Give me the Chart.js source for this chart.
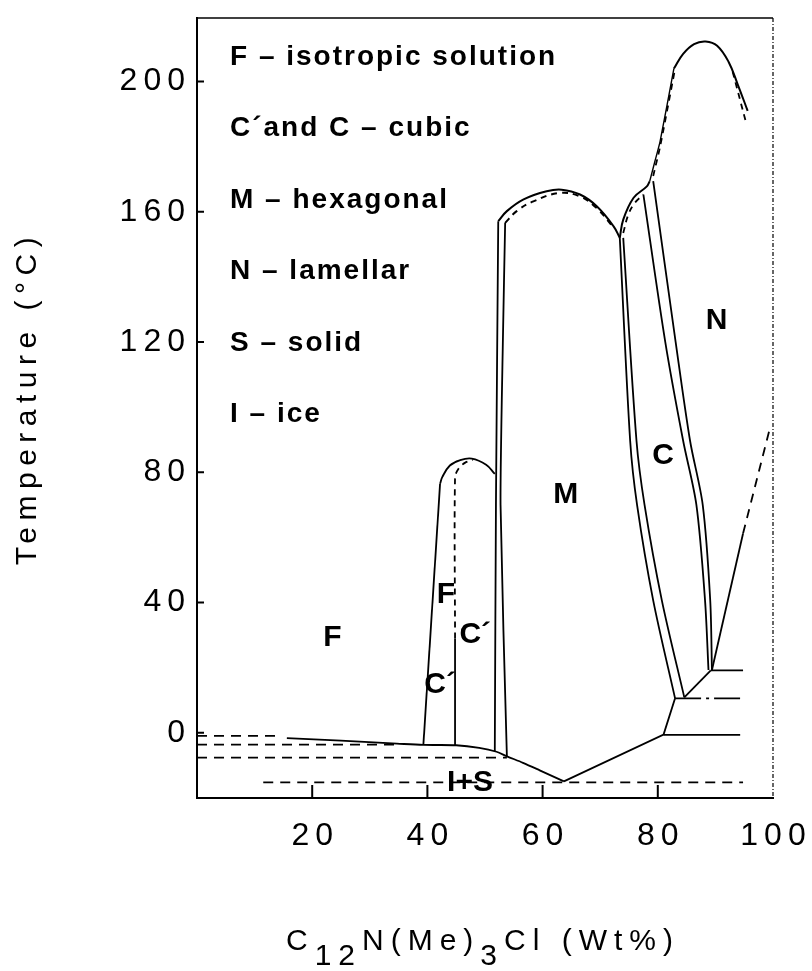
<!DOCTYPE html>
<html>
<head>
<meta charset="utf-8">
<script src="https://cdn.jsdelivr.net/npm/chart.js@4.4.1/dist/chart.umd.min.js"></script>
<style>
  html, body { margin: 0; padding: 0; background: #fff; }
</style>
</head>
<body>
<canvas id="phase" width="812" height="971"></canvas>
<script>
// Tick values on both axes
var xTicks = [20, 40, 60, 80, 100];
var yTicks = [0, 40, 80, 120, 160, 200];

// Key written in the upper left of the plot
var legendLines = ['F – isotropic solution', 'C´and C – cubic', 'M – hexagonal',
  'N – lamellar', 'S – solid', 'I – ice'];

// Phase names and the (wt%, °C) spot where each one is written
var regionNames = ['N', 'C', 'M', 'F', 'F', 'C´', 'C´', 'I+S'];
var regionX = [90.2, 80.9, 64.0, 23.5, 43.2, 48.3, 42.2, 47.4];
var regionY = [126.5, 85.1, 73.0, 29.1, 42.3, 30.0, 14.7, -15.4];

// Phase boundaries as [wt%, °C] pairs
// low temperature part
var iceDash1 = [[0, -0.9], [14.5, -0.9]];
var iceDash2 = [[0, -3.6], [34.7, -3.6]];
var iceDash3 = [[0, -7.6], [53.8, -7.6]];
var eutecticLine = [[11.5, -15.2], [94.8, -15.2]];
var iceCurve = [[15.6, -1.6], [25, -2.4], [34.7, -3.3], [39.3, -3.7], [45, -3.8],
  [49, -4.6], [52, -5.8], [53.8, -7.2], [56.6, -9.2], [59.5, -11.5], [63.7, -14.9]];
var solidusRight = [[63.7, -14.9], [81.0, -0.5], [83.0, 10.6]];
var solidusStep = [[84.6, 10.9], [89.2, 19.2]];
var flat0 = [[81.0, -0.6], [94.3, -0.6]];
var flat10 = [[83.0, 10.6], [94.5, 10.6]];
var flat19 = [[89.2, 19.2], [94.8, 19.2]];

// cubic C' dome
var cPrimeLeft = [[39.3, -3.7], [42.2, 76.5]];
var cPrimeDome = [[42.2, 76.5], [42.6, 78.6], [43.9, 82.1], [45.6, 83.7], [47.7, 84.2],
  [50.2, 82.3], [51.7, 79.5]];
var cPrimeMidSolid = [[44.8, -3.7], [44.8, 29]];
var cPrimeMidDash = [[44.8, 29], [44.8, 78.5], [45.4, 81.1], [46.5, 82.9], [47.9, 83.8]];
var cPrimeRightA = [[51.7, -5.7], [51.9, 70], [52.3, 157.1]];
var cPrimeRightB = [[53.8, -7.2], [52.7, 70], [53.1, 120], [53.5, 156.6]];

// hexagonal M dome
var mDome = [[52.3, 157.1], [53.8, 160.2], [56.7, 163.8], [60.7, 166.3], [63.3, 166.8],
  [66.5, 165.3], [69.4, 161.7], [72.3, 155.6], [73.4, 152.0]];
var mDomeDash = [[53.5, 156.6], [55.5, 160.2], [58.4, 163.2], [63.0, 165.8],
  [66.5, 164.7], [69.4, 161.1], [72.4, 155.0]];
var mcLine1 = [[73.4, 152.0], [75.2, 89.7], [76.4, 70], [79.2, 40.7], [83.0, 10.6]];
var mcLine2 = [[74.0, 152.0], [76.3, 89.7], [77.7, 70], [80.7, 40.7], [84.6, 10.9]];

// cubic C dome
var cDome = [[73.4, 152.0], [74.0, 157.6], [75.8, 164.3], [78.1, 167.8], [78.6, 169.4]];
var cDomeDash = [[74.0, 153.5], [74.9, 159.2], [76.0, 162.7], [77.5, 165.3]];
var cnLine1 = [[77.5, 165.3], [81.3, 120], [84.4, 89.7], [86.7, 70], [88.2, 40.7], [88.8, 19.3]];
var cnLine2 = [[79.2, 169.4], [83.1, 120], [85.6, 89.7], [87.8, 70], [89.1, 40.7], [89.4, 19.3]];

// lamellar N region
var nRise = [[78.6, 169.4], [79.5, 175.5], [80.4, 181.6], [82.8, 204]];
var nDome = [[82.8, 204], [84.4, 208.5], [86.3, 211.5], [88.3, 212.3], [90.3, 211],
  [92.3, 206], [93.9, 199], [95.6, 191]];
var nRiseDash = [[79.2, 171], [80.4, 180], [82.9, 203]];
var nFallDash = [[93.0, 203], [95.3, 187.5]];
var nSolidus = [[89.4, 19.3], [94.8, 61.2]];
var nSolidusDash = [[94.8, 61.2], [99.6, 94.5]];

var FONT = '"Liberation Sans", Arial, Helvetica, sans-serif';

function curve(points, dash, tension, width) {
    return {
        data: points.map(function(p) { return {x: p[0], y: p[1]}; }),
        showLine: true,
        borderColor: '#000',
        borderWidth: width || 1.8,
        borderDash: dash || [],
        tension: tension || 0,
        pointRadius: 0,
        fill: false
    };
}

var shortDash = [6, 5];
var longDash = [10, 7];

var datasets = [
    curve(iceDash1, longDash),
    curve(iceDash2, longDash),
    curve(iceDash3, longDash),
    curve(eutecticLine, longDash),
    curve(iceCurve, null, 0.3),
    curve(solidusRight),
    curve(solidusStep),
    curve(flat0),
    curve(flat10, [26, 5, 3, 5]),
    curve(flat19),
    curve(cPrimeLeft),
    curve(cPrimeDome, null, 0.4),
    curve(cPrimeMidSolid),
    curve(cPrimeMidDash, shortDash, 0.3),
    curve(cPrimeRightA, null, 0.2),
    curve(cPrimeRightB, null, 0.2),
    curve(mDome, null, 0.4, 2),
    curve(mDomeDash, shortDash, 0.4, 2),
    curve(mcLine1, null, 0.3),
    curve(mcLine2, null, 0.3),
    curve(cDome, null, 0.4, 2),
    curve(cDomeDash, shortDash, 0.4),
    curve(cnLine1, null, 0.3),
    curve(cnLine2, null, 0.3),
    curve(nRise, null, 0.2, 1.4),
    curve(nDome, null, 0.4, 2),
    curve(nRiseDash, shortDash, 0.2),
    curve(nFallDash, shortDash),
    curve(nSolidus),
    curve(nSolidusDash, [9, 7])
];

// Frame, inward ticks and all free text
var decorPlugin = {
    id: 'decor',
    beforeDraw: function(chart) {
        var ctx = chart.ctx;
        ctx.fillStyle = '#fff';
        ctx.fillRect(0, 0, chart.width, chart.height);
        // spaced out digits, like the typewriter figures
        ctx.letterSpacing = '6px';
    },
    beforeDatasetsDraw: function(chart) {
        var ctx = chart.ctx;
        var a = chart.chartArea;
        var xs = chart.scales.x;
        var ys = chart.scales.y;
        ctx.letterSpacing = '0px';
        ctx.save();
        ctx.strokeStyle = '#000';
        ctx.lineWidth = 1.6;
        ctx.beginPath();
        ctx.moveTo(a.left, a.top);
        ctx.lineTo(a.right, a.top);
        ctx.stroke();
        ctx.lineWidth = 1.2;
        ctx.setLineDash([4, 2, 1, 2]);
        ctx.beginPath();
        ctx.moveTo(a.right, a.top);
        ctx.lineTo(a.right, a.bottom);
        ctx.stroke();
        ctx.setLineDash([]);
        ctx.lineWidth = 2;
        ctx.beginPath();
        yTicks.forEach(function(v) {
            var py = ys.getPixelForValue(v);
            ctx.moveTo(a.left, py);
            ctx.lineTo(a.left + 7, py);
        });
        xTicks.forEach(function(v) {
            if (v >= 100) return;
            var px = xs.getPixelForValue(v);
            ctx.moveTo(px, a.bottom);
            ctx.lineTo(px, a.bottom - 13);
        });
        ctx.stroke();
        ctx.restore();
    },
    afterDatasetsDraw: function(chart) {
        var ctx = chart.ctx;
        var a = chart.chartArea;
        var xs = chart.scales.x;
        var ys = chart.scales.y;
        ctx.save();
        ctx.fillStyle = '#000';

        // key
        ctx.font = 'bold 28px ' + FONT;
        ctx.letterSpacing = '2px';
        ctx.textAlign = 'left';
        ctx.textBaseline = 'middle';
        legendLines.forEach(function(t, i) {
            ctx.fillText(t, a.left + 33, a.top + 39 + i * 71.5);
        });

        // phase names
        ctx.font = 'bold 30px ' + FONT;
        ctx.letterSpacing = '0px';
        ctx.textAlign = 'center';
        regionNames.forEach(function(t, i) {
            ctx.fillText(t, xs.getPixelForValue(regionX[i]), ys.getPixelForValue(regionY[i]));
        });

        // x axis title with subscripts
        ctx.font = '30px ' + FONT;
        ctx.letterSpacing = '7px';
        ctx.textAlign = 'left';
        ctx.textBaseline = 'alphabetic';
        var parts = [['C', 0], ['12', 15], ['N(Me)', 0], ['3', 15], ['Cl (Wt%)', 0]];
        var total = 0;
        parts.forEach(function(p) { total += ctx.measureText(p[0]).width; });
        var x = 483 - total / 2;
        parts.forEach(function(p) {
            ctx.fillText(p[0], x, 950 + p[1]);
            x += ctx.measureText(p[0]).width;
        });

        // y axis title
        ctx.translate(28, 398);
        ctx.rotate(-Math.PI / 2);
        ctx.letterSpacing = '6.5px';
        ctx.textAlign = 'center';
        ctx.textBaseline = 'middle';
        ctx.fillText('Temperature (°C)', 0, 0);
        ctx.restore();
    }
};

new Chart(document.getElementById('phase'), {
    type: 'scatter',
    data: {datasets: datasets},
    options: {
        responsive: false,
        animation: false,
        devicePixelRatio: 1,
        layout: {padding: {top: 18, right: 39, left: 0, bottom: 0}},
        plugins: {
            legend: {display: false},
            tooltip: {enabled: false}
        },
        scales: {
            x: {
                type: 'linear',
                min: 0,
                max: 100,
                afterBuildTicks: function(scale) {
                    scale.ticks = xTicks.map(function(v) { return {value: v}; });
                },
                afterFit: function(scale) { scale.height = 971 - 798; },
                // tick marks are drawn inward by the plugin; the length only spaces the labels
                grid: {display: false, drawTicks: true, tickLength: 22},
                border: {display: true, color: '#000', width: 2},
                ticks: {
                    color: '#000',
                    font: {family: FONT, size: 32, lineHeight: 1},
                    padding: 0,
                    labelOffset: 3,
                    maxRotation: 0,
                    autoSkip: false
                }
            },
            y: {
                type: 'linear',
                min: -20,
                max: 219.5,
                afterBuildTicks: function(scale) {
                    scale.ticks = yTicks.map(function(v) { return {value: v}; });
                },
                afterFit: function(scale) { scale.width = 197; },
                grid: {display: false, drawTicks: true, tickLength: 6},
                border: {display: true, color: '#000', width: 2},
                ticks: {
                    color: '#000',
                    font: {family: FONT, size: 32, lineHeight: 1},
                    padding: 0
                }
            }
        }
    },
    plugins: [decorPlugin]
});
</script>
</body>
</html>
